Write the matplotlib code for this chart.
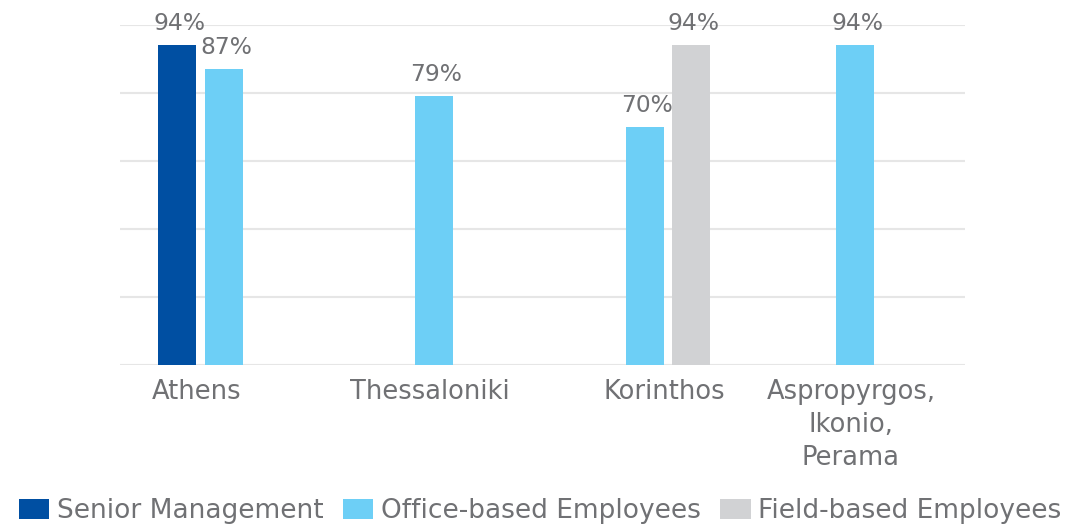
import matplotlib.pyplot as plt
import numpy as np

plt.rcParams['font.family'] = ['DejaVu Sans']

locations = ["Athens", "Thessaloniki", "Korinthos", "Aspropyrgos,\nIkonio,\nPerama"]
senior = [94, None, None, None]
office = [87, 79, 70, 94]
field = [None, None, 94, None]

series_names = ["Senior Management", "Office-based Employees", "Field-based Employees"]
colors = ["#004fa2", "#6dcff6", "#d1d2d4"]
text_color = "#707174"

fig = plt.figure(figsize=(10.68, 5.25), dpi=100)
ax = fig.add_axes([120 / 1068, 160 / 525, 845 / 1068, 340 / 525])

x = np.arange(len(locations))
width = 0.18
step = 0.222
label_pos = [[] for _ in locations]

for k, (vals, name, col) in enumerate(zip([senior, office, field], series_names, colors)):
    offset = (k - 1) * step
    xs = [x[i] + offset for i, v in enumerate(vals) if v is not None]
    ys = [v for v in vals if v is not None]
    ax.bar(xs, ys, width=width, color=col, label=name, zorder=3)
    for i, v in enumerate(vals):
        if v is not None:
            label_pos[i].append(x[i] + offset)
            ax.text(x[i] + offset + 0.01, v + 3.0, f"{v}%", ha="center", va="bottom",
                    fontsize=16.8, color=text_color)

ax.set_xlim(-0.495, 3.523)
ax.set_ylim(0, 100)
ax.set_yticks([0, 20, 40, 60, 80, 100])
ax.set_yticklabels([])
ax.tick_params(axis="y", length=0)
ax.grid(axis="y", color="#e6e6e6", linewidth=1.5, zorder=0)
for s in ax.spines.values():
    s.set_visible(False)

ax.set_xticks([np.mean(p) - 0.02 for p in label_pos])
ax.set_xticklabels(locations, fontsize=18.5, color=text_color, linespacing=1.36)
ax.tick_params(axis="x", length=0, pad=10)

fig.legend(loc="lower center", bbox_to_anchor=(0.506, -0.043), ncol=3, frameon=False,
           fontsize=19, labelcolor=text_color, handlelength=1.15, handleheight=0.78,
           handletextpad=0.3, columnspacing=0.72)

fig.savefig("out.png", dpi=100)
